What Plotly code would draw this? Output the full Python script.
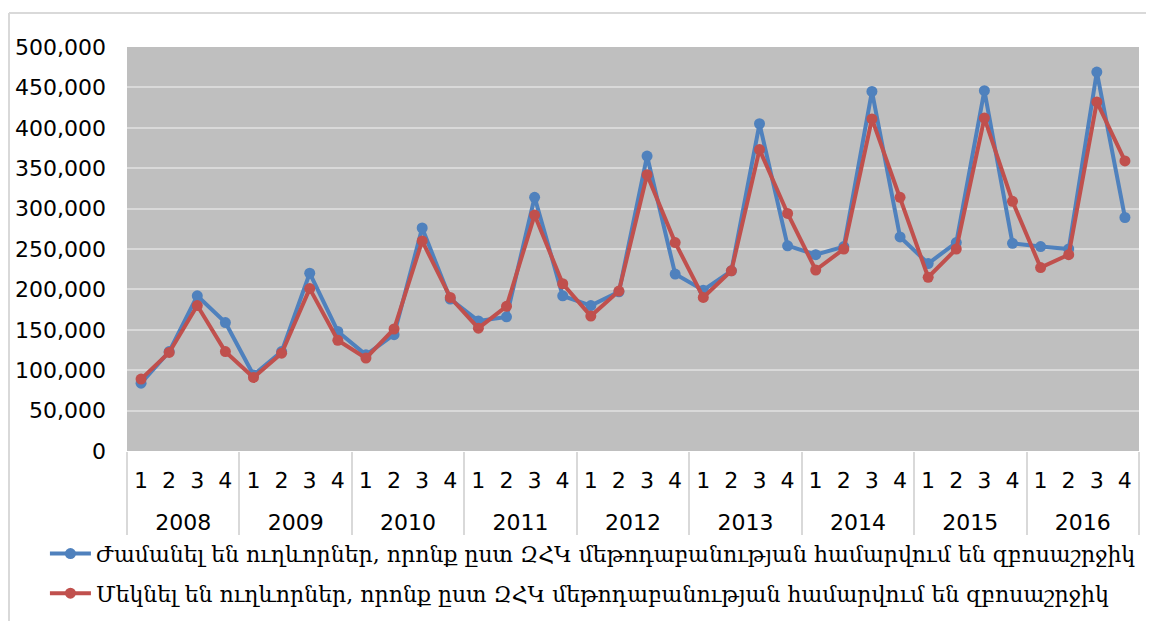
import plotly.graph_objects as go

years = ["2008", "2009", "2010", "2011", "2012", "2013", "2014", "2015", "2016"]
quarters = ["1", "2", "3", "4"]

series_blue_name = "Ժամանել են ուղևորներ, որոնք ըստ ԶՀԿ մեթոդաբանության համարվում են զբոսաշրջիկ"
series_red_name = "Մեկնել են ուղևորներ, որոնք ըստ ԶՀԿ մեթոդաբանության համարվում են զբոսաշրջիկ"

blue_values = [84000, 123000, 192000, 159000, 94000, 123000, 220000, 148000,
               119000, 144000, 276000, 188000, 161000, 166000, 314000, 192000,
               180000, 197000, 365000, 219000, 199000, 223000, 405000, 254000,
               243000, 253000, 445000, 265000, 232000, 258000, 446000, 257000,
               253000, 250000, 469000, 289000]
red_values = [89000, 122000, 180000, 123000, 91000, 121000, 201000, 137000,
              115000, 151000, 260000, 190000, 152000, 179000, 292000, 207000,
              167000, 198000, 342000, 258000, 190000, 223000, 373000, 294000,
              224000, 250000, 411000, 314000, 215000, 250000, 412000, 309000,
              227000, 243000, 432000, 359000]

x_years = [y for y in years for q in quarters]
x_quarters = [q for y in years for q in quarters]

fig = go.Figure()
fig.add_trace(go.Scatter(
    x=[x_years, x_quarters], y=blue_values, name=series_blue_name,
    mode="lines+markers", line=dict(color="#4F81BD", width=4),
    marker=dict(color="#4F81BD", size=11), legendgroup="a"))
fig.add_trace(go.Scatter(
    x=[x_years, x_quarters], y=red_values, name=series_red_name,
    mode="lines+markers", line=dict(color="#C0504D", width=4),
    marker=dict(color="#C0504D", size=11), legendgroup="b"))

L, T, R, B = 119, 39, 23, 178
W, H = 1154, 621
pw, ph = W - L - R, H - T - B

fig.update_layout(
    width=W, height=H,
    margin=dict(l=L, r=R, t=T, b=B, autoexpand=False),
    paper_bgcolor="white", plot_bgcolor="#BFBFBF",
    font=dict(family="DejaVu Sans", size=22, color="black"),
    showlegend=True,
    legend=dict(xref="container", yref="container", x=0.032, y=0.155,
                xanchor="left", yanchor="top", orientation="v",
                tracegroupgap=8, bgcolor="rgba(0,0,0,0)", itemwidth=41,
                font=dict(family="DejaVu Serif", size=22, color="black")),
    xaxis=dict(type="multicategory", range=[-0.5, 35.5],
               showgrid=False, showline=False, ticks="",
               showdividers=True, dividercolor="#D9D9D9", dividerwidth=1.5,
               ticklabelstandoff=14, ticklabelshift=-7,
               tickfont=dict(size=22, color="black"), tickangle=0.5),
    yaxis=dict(range=[0, 500000], dtick=50000, tickformat=",",
               showgrid=True, gridcolor="#D9D9D9", gridwidth=1.5,
               zeroline=False, showline=False, ticks="", ticklabelstandoff=20,
               tickfont=dict(size=22, color="black")),
)
# outer chart border (light grey) as in the reference
bx, by = 1, 5
fig.add_shape(type="line", xref="paper", yref="paper",
              x0=(bx - L) / pw, x1=(W - L) / pw,
              y0=(T + ph - by) / ph, y1=(T + ph - by) / ph,
              line=dict(color="#D9D9D9", width=2))
fig.add_shape(type="line", xref="paper", yref="paper",
              x0=(bx - L) / pw, x1=(bx - L) / pw,
              y0=(T + ph - by) / ph, y1=(T + ph - H) / ph,
              line=dict(color="#D9D9D9", width=2))

fig.write_html("out.html")
